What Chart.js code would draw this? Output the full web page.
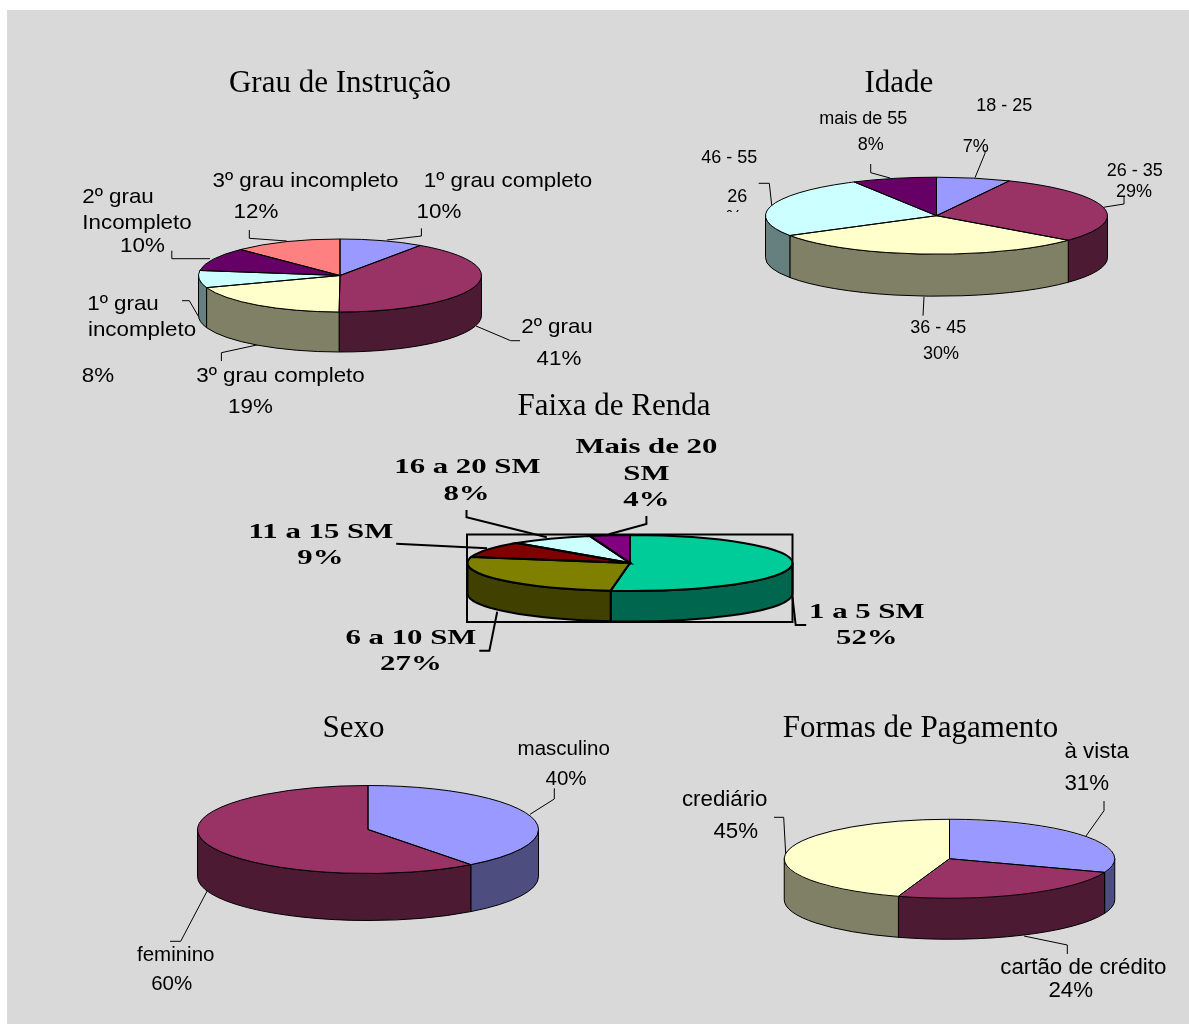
<!DOCTYPE html>
<html>
<head>
<meta charset="utf-8">
<title>Perfil dos clientes</title>
<script src="https://cdn.jsdelivr.net/npm/chart.js@4/dist/chart.umd.min.js"></script>
<style>
  html, body { margin: 0; padding: 0; background: #fff; overflow: hidden; }
  #panel { position: absolute; left: 7px; top: 10px; width: 1182px; height: 1014px; background: #d9d9d9; }
  canvas { position: absolute; left: 0; top: 0; }
</style>
</head>
<body>
<div id="panel"></div>
<canvas id="grau" width="1189" height="1024"></canvas>
<canvas id="idade" width="1189" height="1024"></canvas>
<canvas id="renda" width="1189" height="1024"></canvas>
<canvas id="sexo" width="1189" height="1024"></canvas>
<canvas id="pagamento" width="1189" height="1024"></canvas>
<script>
// values, they round to the printed percentages
var grauCategories = ["1º grau completo", "2º grau", "3º grau completo", "1º grau incompleto", "2º grau Incompleto", "3º grau incompleto"];
var grauValues = [9.6, 40.5, 19.5, 7.6, 10.4, 12.4];

var idadeCategories = ["18 - 25", "26 - 35", "36 - 45", "46 - 55", "mais de 55"];
var idadeValues = [7, 29, 30.4, 25.6, 8];

var rendaCategories = ["1 a 5 SM", "6 a 10 SM", "11 a 15 SM", "16 a 20 SM", "Mais de 20 SM"];
var rendaValues = [51.9, 26.6, 9.2, 8.3, 4];

var sexoCategories = ["masculino", "feminino"];
var sexoValues = [39.7, 60.3];

var pagamentoCategories = ["à vista", "cartão de crédito", "crediário"];
var pagamentoValues = [30.6, 24.4, 45];

var officeColors = ["#9999ff", "#993366", "#ffffcc", "#ccffff", "#660066", "#ff8080"];
var rendaColors = ["#00cc99", "#808000", "#800000", "#ccffff", "#800080"];

var SANS = "'Liberation Sans', Arial, sans-serif";
var SERIF = "'Liberation Serif', 'Times New Roman', serif";
var PAGE_W = 1189, PAGE_H = 1024;

function darker(hex){
  var n = parseInt(hex.slice(1), 16);
  return "rgb(" + Math.round((n >> 16) / 2) + "," + Math.round(((n >> 8) & 255) / 2) + "," + Math.round((n & 255) / 2) + ")";
}

function drawPolyline(ctx, pts){
  ctx.beginPath();
  pts.forEach(function(p, i){
    if(i == 0) ctx.moveTo(p[0], p[1]);
    else ctx.lineTo(p[0], p[1]);
  });
  ctx.stroke();
}

function drawText(ctx, font, t){
  ctx.save();
  if(t[3]){
    ctx.beginPath();
    ctx.rect(0, 0, PAGE_W, t[3]);
    ctx.clip();
  }
  ctx.translate(t[1], t[2]);
  ctx.scale(font.stretch, 1);
  ctx.font = font.weight + " " + font.size + "px " + font.family;
  ctx.textAlign = "center";
  ctx.textBaseline = "alphabetic";
  ctx.fillStyle = "#000";
  ctx.fillText(t[0], 0, 0);
  ctx.restore();
}

// draws the wall of the front half of one slice
function drawWall(ctx, arc, ry, depth, color, lw){
  var TWO_PI = Math.PI * 2;
  [0, TWO_PI, -TWO_PI].forEach(function(shift){
    var a = Math.max(arc.startAngle + shift, 0);
    var b = Math.min(arc.endAngle + shift, Math.PI);
    if(b <= a) return;
    ctx.beginPath();
    ctx.ellipse(arc.x, arc.y, arc.outerRadius, ry, 0, a, b);
    ctx.ellipse(arc.x, arc.y + depth, arc.outerRadius, ry, 0, b, a, true);
    ctx.closePath();
    ctx.fillStyle = color;
    ctx.fill();
    ctx.lineWidth = lw;
    ctx.strokeStyle = "#000";
    ctx.stroke();
  });
}

function makePie(id, categories, values, colors, view){
  var pie3d = {
    id: "pie3d",
    beforeDatasetsDraw: function(chart){
      var ctx = chart.ctx;
      var arcs = chart.getDatasetMeta(0).data;
      ctx.save();
      ctx.strokeStyle = "#000";
      ctx.lineWidth = view.leaderWidth;
      view.leaders.forEach(function(l){ drawPolyline(ctx, l); });
      ctx.restore();
      ctx.save();
      arcs.forEach(function(arc, i){
        drawWall(ctx, arc, view.ry, view.depth, darker(colors[i]), view.edgeWidth);
      });
      ctx.restore();
      // the library paints the slices flattened to an ellipse
      ctx.save();
      ctx.translate(view.cx, view.cy);
      ctx.scale(1, view.ry / view.rx);
      ctx.translate(-view.cx, -view.cy);
    },
    afterDatasetsDraw: function(chart){
      var ctx = chart.ctx;
      var arcs = chart.getDatasetMeta(0).data;
      ctx.restore();
      ctx.save();
      ctx.strokeStyle = "#000";
      ctx.lineWidth = view.edgeWidth;
      arcs.forEach(function(arc){
        ctx.beginPath();
        ctx.moveTo(arc.x, arc.y);
        ctx.ellipse(arc.x, arc.y, arc.outerRadius, view.ry, 0, arc.startAngle, arc.endAngle);
        ctx.closePath();
        ctx.stroke();
      });
      if(view.frame){
        ctx.strokeRect(view.frame[0], view.frame[1], view.frame[2], view.frame[3]);
      }
      ctx.restore();
      drawText(ctx, view.titleFont, view.title);
      view.texts.forEach(function(t){ drawText(ctx, view.font, t); });
    }
  };

  return new Chart(document.getElementById(id), {
    type: "pie",
    data: {
      labels: categories,
      datasets: [{ data: values, backgroundColor: colors, borderWidth: 0 }]
    },
    options: {
      responsive: false,
      animation: false,
      events: [],
      layout: {
        padding: {
          left: view.cx - view.rx,
          right: PAGE_W - view.cx - view.rx,
          top: view.cy - view.rx,
          bottom: PAGE_H - view.cy - view.rx
        }
      },
      plugins: { legend: { display: false }, tooltip: { enabled: false } }
    },
    plugins: [pie3d]
  });
}

var titleFont = { family: SERIF, weight: "normal", size: 31, stretch: 1 };

makePie("grau", grauCategories, grauValues, officeColors, {
  cx: 340, cy: 275.5, rx: 141.5, ry: 36.5, depth: 40, edgeWidth: 1, leaderWidth: 1,
  titleFont: titleFont,
  title: ["Grau de Instrução", 340, 91.7],
  font: { family: SANS, weight: "normal", size: 21, stretch: 1.065 },
  texts: [
    ["3º grau incompleto", 305.5, 186.7], ["12%", 256, 218],
    ["1º grau completo", 508, 186.7], ["10%", 439, 218],
    ["2º grau", 118, 203], ["Incompleto", 137, 229], ["10%", 142.5, 251.7],
    ["1º grau", 123, 310], ["incompleto", 142, 335.7], ["8%", 98, 381.7],
    ["3º grau completo", 280.5, 381.7], ["19%", 250.5, 413],
    ["2º grau", 557, 333], ["41%", 559, 365]
  ],
  leaders: [
    [[386.8, 240], [421.4, 236], [421.4, 228.3]],
    [[286.8, 241], [249.3, 238.3], [249.3, 230]],
    [[210, 258.7], [171.8, 258.7], [171.8, 250.7]],
    [[198.6, 316.7], [189.3, 300.7], [182, 300.7]],
    [[260, 344.3], [221.4, 352.7], [221.4, 361]],
    [[476, 326], [510.7, 340.7], [520, 340.7]]
  ]
});

makePie("idade", idadeCategories, idadeValues, officeColors, {
  cx: 936.5, cy: 215.7, rx: 171, ry: 38.5, depth: 42, edgeWidth: 1, leaderWidth: 1,
  titleFont: titleFont,
  title: ["Idade", 898.8, 91.7],
  font: { family: SANS, weight: "normal", size: 18, stretch: 1 },
  texts: [
    ["18 - 25", 1004.3, 111], ["7%", 975.8, 152.3],
    ["mais de 55", 863.3, 124], ["8%", 870.7, 150],
    ["46 - 55", 729.3, 163.3], ["26", 737.3, 201.7], ["%", 734, 222.5, 212],
    ["26 - 35", 1134.7, 176], ["29%", 1134, 197.3],
    ["36 - 45", 938.3, 333.3], ["30%", 941, 359.3]
  ],
  leaders: [
    [[975, 177.7], [985, 153.3], [985, 150]],
    [[1103.3, 207.3], [1124, 204], [1124, 196.7]],
    [[924, 296.7], [923, 315.7]],
    [[771.7, 205], [769.3, 183.3], [758.7, 183.3]],
    [[890, 178], [870.7, 172.7], [870.7, 164]]
  ]
});

makePie("renda", rendaCategories, rendaValues, rendaColors, {
  cx: 630, cy: 563, rx: 162.5, ry: 28, depth: 30.5, edgeWidth: 2, leaderWidth: 2,
  frame: [467, 534.5, 325.5, 87.5],
  titleFont: titleFont,
  title: ["Faixa de Renda", 614, 415],
  font: { family: SERIF, weight: "bold", size: 22, stretch: 1.4 },
  texts: [
    ["Mais de 20", 646.4, 453.3], ["SM", 646.4, 480], ["4%", 646.4, 506],
    ["16 a 20 SM", 467.4, 473.3], ["8%", 466.5, 500],
    ["11 a 15 SM", 320.9, 537.7], ["9%", 320.4, 564],
    ["1 a 5 SM", 866.8, 618], ["52%", 866.8, 644],
    ["6 a 10 SM", 410.9, 644.3], ["27%", 410.9, 670]
  ],
  leaders: [
    [[608.8, 534.3], [646.4, 524], [646.4, 516]],
    [[546.8, 537.3], [466.5, 517.3], [466.5, 510]],
    [[487, 548.3], [396.2, 543.7]],
    [[497.2, 611.7], [489.4, 650.7], [479.3, 650.7]],
    [[792.4, 596.7], [795.7, 625], [806.2, 625]]
  ]
});

makePie("sexo", sexoCategories, sexoValues, officeColors, {
  cx: 368, cy: 829.5, rx: 170.5, ry: 44, depth: 47, edgeWidth: 1, leaderWidth: 1,
  titleFont: titleFont,
  title: ["Sexo", 353.5, 736.7],
  font: { family: SANS, weight: "normal", size: 20.5, stretch: 1 },
  texts: [
    ["masculino", 563.7, 755], ["40%", 566, 785],
    ["feminino", 175.7, 960.7], ["60%", 171.7, 990]
  ],
  leaders: [
    [[530, 814.3], [554.3, 799], [554.3, 788.3]],
    [[207.3, 890.7], [180.7, 941.3], [170, 941.3]]
  ]
});

makePie("pagamento", pagamentoCategories, pagamentoValues, [officeColors[0], officeColors[1], officeColors[2]], {
  cx: 949.5, cy: 859.5, rx: 166, ry: 39.5, depth: 41, edgeWidth: 1, leaderWidth: 1,
  titleFont: titleFont,
  title: ["Formas de Pagamento", 920.5, 736.7],
  font: { family: SANS, weight: "normal", size: 22.3, stretch: 1 },
  texts: [
    ["à vista", 1096.7, 757.7], ["31%", 1086.7, 790],
    ["crediário", 724.7, 806], ["45%", 735.7, 837.7],
    ["cartão de crédito", 1083.3, 974], ["24%", 1070.7, 996.7]
  ],
  leaders: [
    [[1086, 836], [1104, 810.7], [1104, 801]],
    [[785.7, 854], [783.7, 817.3], [774, 817.3]],
    [[1024, 936], [1067.3, 945], [1067.3, 954]]
  ]
});
</script>
</body>
</html>
